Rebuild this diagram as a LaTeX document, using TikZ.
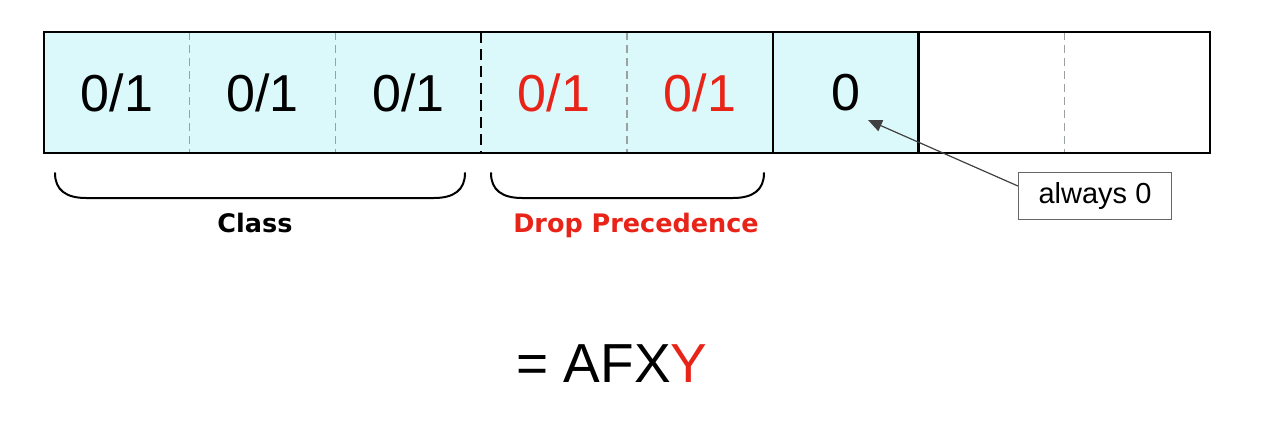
\documentclass[tikz,border=0pt]{standalone}
\usepackage{fontspec}
\setmainfont{Liberation Sans}
\newfontfamily\labfont{DejaVu Sans}
\usetikzlibrary{arrows.meta}
\definecolor{cellfill}{RGB}{219,248,251}
\definecolor{redtxt}{RGB}{232,35,24}
\definecolor{sepgray}{RGB}{155,160,160}
\tikzset{
  cell/.style={minimum width=145.75pt, minimum height=121pt, inner sep=0pt, outer sep=0pt,
    font=\fontsize{52}{60}\selectfont},
  filled/.style={fill=cellfill},
  sepline/.style={draw=sepgray, line width=1.3pt, dash pattern=on 8pt off 5pt},
  majorsep/.style={draw=black, line width=2.4pt, dash pattern=on 11pt off 6pt},
  solidsep/.style={draw=black, line width=2.2pt},
  frame/.style={draw=black, line width=2.6pt},
  bracepath/.style={draw=black, line width=2pt, line cap=round},
  blabel/.style={font=\labfont\bfseries\fontsize{25.5}{30}\selectfont, anchor=base, inner sep=0pt},
  note/.style={draw=gray!80!black, line width=1.2pt, fill=white, minimum width=153pt, minimum height=47pt,
    inner sep=0pt, font=\fontsize{29}{34}\selectfont},
  pointer/.style={draw=gray!50!black, line width=1.2pt, -{Triangle[length=14pt,width=12pt]}},
}
\begin{document}
\begin{tikzpicture}[x=1pt,y=-1pt]
\useasboundingbox (0,0) rectangle (1286,447);
% cells
\node[cell,filled] (c1) at (116.875,92.5) {0/1};
\node[cell,filled] (c2) at (262.625,92.5) {0/1};
\node[cell,filled] (c3) at (408.375,92.5) {0/1};
\node[cell,filled,text=redtxt] (c4) at (554.125,92.5) {0/1};
\node[cell,filled,text=redtxt] (c5) at (699.875,92.5) {0/1};
\node[cell,filled] (c6) at (845.625,92.5) {0};
\node[cell] (c7) at (991.375,92.5) {};
\node[cell] (c8) at (1137.125,92.5) {};
% separators
\draw[sepline] (c1.north east) -- (c1.south east);
\draw[sepline] (c2.north east) -- (c2.south east);
\draw[majorsep] (c3.north east) -- (c3.south east);
\draw[sepline] (c4.north east) -- (c4.south east);
\draw[solidsep] (c5.north east) -- (c5.south east);
\draw[solidsep] (c6.north east) -- (c6.south east);
\draw[sepline] (c7.north east) -- (c7.south east);
\draw[frame] (c1.north west) rectangle (c8.south east);
% braces
\draw[bracepath] (55,173) .. controls (55,190) and (66,198) .. (86,198) -- (434,198) .. controls (454,198) and (465,190) .. (465,173);
\draw[bracepath] (491,173) .. controls (491,190) and (502,198) .. (522,198) -- (733,198) .. controls (753,198) and (764,190) .. (764,173);
\node[blabel] (cls) at (255,232) {Class};
\node[blabel,text=redtxt] (dp) at (636,232) {Drop Precedence};
% note
\node[note] (al) at (1095,196) {always 0};
\coordinate (tip) at (868,120);
\draw[pointer] ([yshift=10pt]al.west) -- (tip);
% result
\node[anchor=base, inner sep=0pt, font=\fontsize{55}{64}\selectfont] (res) at (612,382) {= AFX\textcolor{redtxt}{Y}};
\end{tikzpicture}
\end{document}
